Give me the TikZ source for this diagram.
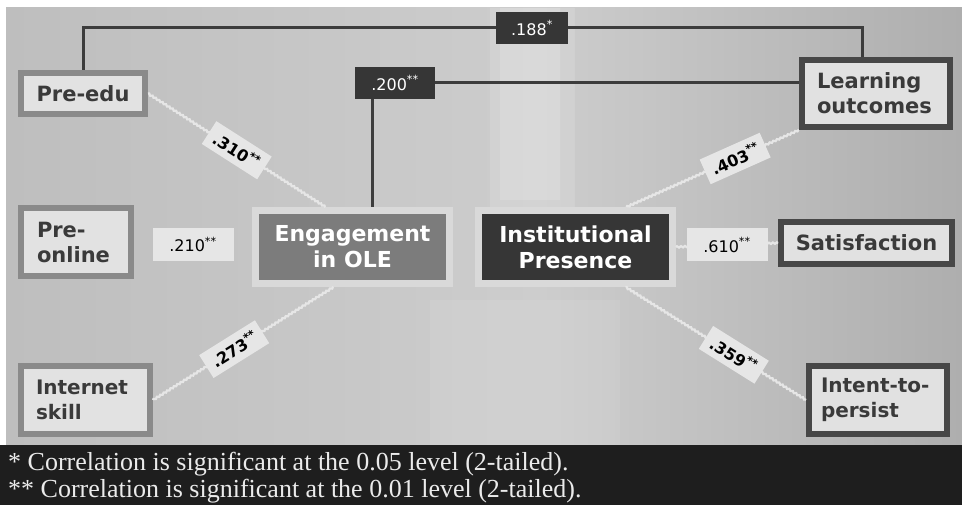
\documentclass[tikz,border=0pt]{standalone}
\usepackage{fontspec}
\setmainfont{Liberation Serif}
\newfontfamily\boxfont{DejaVu Sans}
\usetikzlibrary{decorations.pathmorphing}
\definecolor{bgA}{HTML}{BEBEBE}
\definecolor{bgB}{HTML}{CDCDCD}
\definecolor{bgC}{HTML}{AEAEAE}
\definecolor{footbg}{HTML}{1E1E1E}
\definecolor{boxfill}{HTML}{E2E2E2}
\definecolor{grayborder}{HTML}{8A8A8A}
\definecolor{darkborder}{HTML}{474747}
\definecolor{txtdark}{HTML}{3A3A3A}
\definecolor{framelight}{HTML}{D9D9D9}
\definecolor{engfill}{HTML}{7C7C7C}
\definecolor{instfill}{HTML}{363636}
\definecolor{linedark}{HTML}{3C3C3C}
\definecolor{linelight}{HTML}{E6E6E6}
\definecolor{lblfill}{HTML}{E6E6E6}
\begin{document}
\begin{tikzpicture}[x=1pt,y=-1pt,
  basebox/.style={line width=6pt, fill=boxfill, text=txtdark, inner sep=0pt,
    font=\boxfont\bfseries\fontsize{21pt}{25pt}\selectfont},
  lbox/.style={basebox, draw=grayborder},
  dbox/.style={basebox, draw=darkborder, fill=boxfill!105},
  midbox/.style={draw=framelight, line width=7pt, text=white, inner sep=0pt, align=center,
    minimum width=194pt, minimum height=73pt,
    font=\boxfont\bfseries\fontsize{22pt}{26pt}\selectfont},
  darklbl/.style={fill=instfill, text=white, inner sep=0pt, minimum height=32pt,
    font=\boxfont\fontsize{16pt}{18pt}\selectfont},
  flatlbl/.style={fill=lblfill, text=black, inner sep=0pt, minimum width=81pt, minimum height=33pt,
    font=\boxfont\fontsize{16pt}{18pt}\selectfont},
  rlbl/.style={fill=lblfill, text=black, inner xsep=7pt, inner ysep=0pt, minimum height=27pt,
    font=\boxfont\bfseries\fontsize{16pt}{18pt}\selectfont, sloped},
  darkline/.style={draw=linedark, line width=3pt},
  lightline/.style={draw=linelight, line width=2.2pt,
    decorate, decoration={zigzag, segment length=4pt, amplitude=0.7pt}},
  foottext/.style={anchor=base west, inner sep=0pt, text=white!92!black,
    font=\fontsize{26pt}{27pt}\selectfont}
]
% background
\fill[white] (0,0) rectangle (962,505);
\shade[left color=bgA, right color=bgB] (6,8) rectangle (540,445);
\shade[left color=bgB, right color=bgC] (540,8) rectangle (962,445);
\fill[white, opacity=0.12] (490,8) rectangle (575,230);
\fill[white, opacity=0.15] (500,8) rectangle (560,200);
\fill[white, opacity=0.08] (430,300) rectangle (620,445);
\fill[footbg] (0,445) rectangle (962,505);

% nodes
\node[lbox, minimum width=124pt, minimum height=41pt] (preedu) at (83,93.5) {Pre-edu};
\node[lbox, text width=78pt, inner xsep=16pt, minimum height=68pt, align=left] (preonline) at (76,242) {Pre-\\online};
\node[lbox, text width=99pt, inner xsep=15pt, minimum height=68pt, align=left,
  font=\boxfont\bfseries\fontsize{20pt}{25pt}\selectfont] (inet) at (85.5,400) {Internet\\skill};
\node[midbox, fill=engfill] (eng) at (352.5,247) {Engagement\\in OLE};
\node[midbox, fill=instfill] (inst) at (575.5,247) {Institutional\\Presence};
\node[dbox, text width=118pt, inner xsep=15pt, minimum height=67pt, align=left] (learn) at (876,93.5) {Learning\\outcomes};
\node[dbox, minimum width=171pt, minimum height=42pt] (satis) at (866.5,243) {Satisfaction};
\node[dbox, text width=114pt, inner xsep=12pt, minimum height=68pt, align=left,
  font=\boxfont\bfseries\fontsize{20pt}{25pt}\selectfont] (intent) at (878,400) {Intent-to-\\persist};

\node[darklbl, minimum width=72pt] (b188) at (532,28) {.188\textsuperscript{*}};
\node[darklbl, minimum width=80pt] (b200) at (395,83) {.200\textsuperscript{**}};

% dark connectors
\draw[darkline] (preedu.north) |- (b188.west);
\draw[darkline] (b188.east) -| ([xshift=-14pt]learn.north);
\draw[darkline] ([xshift=-23pt]b200.south) -- ([xshift=-23pt]b200.south |- eng.north);
\draw[darkline] (b200.east) -- (b200.east -| learn.west);

% light connectors
\draw[lightline] (preedu.east) -- node[rlbl, pos=0.5] {.310\textsuperscript{**}} ([xshift=-27pt]eng.north);
\draw[lightline] (inet.east) -- node[rlbl, pos=0.45] {.273\textsuperscript{**}} ([xshift=-19pt]eng.south);
\draw[lightline] ([xshift=51pt]inst.north) -- node[rlbl, pos=0.63] {.403\textsuperscript{**}} (learn.south west);
\draw[lightline] ([xshift=50pt]inst.south) -- node[rlbl, pos=0.6] {.359\textsuperscript{**}} (intent.west);
\draw[lightline] (inst.east) -- node[flatlbl] {.610\textsuperscript{**}} (satis.west);
\path (preonline.east) -- node[flatlbl] {.210\textsuperscript{**}} (eng.west);

% footnote
\node[foottext] (foot1) at (8,470) {* Correlation is significant at the 0.05 level (2-tailed).};
\node[foottext] (foot2) at (8,497) {** Correlation is significant at the 0.01 level (2-tailed).};
\end{tikzpicture}
\end{document}
